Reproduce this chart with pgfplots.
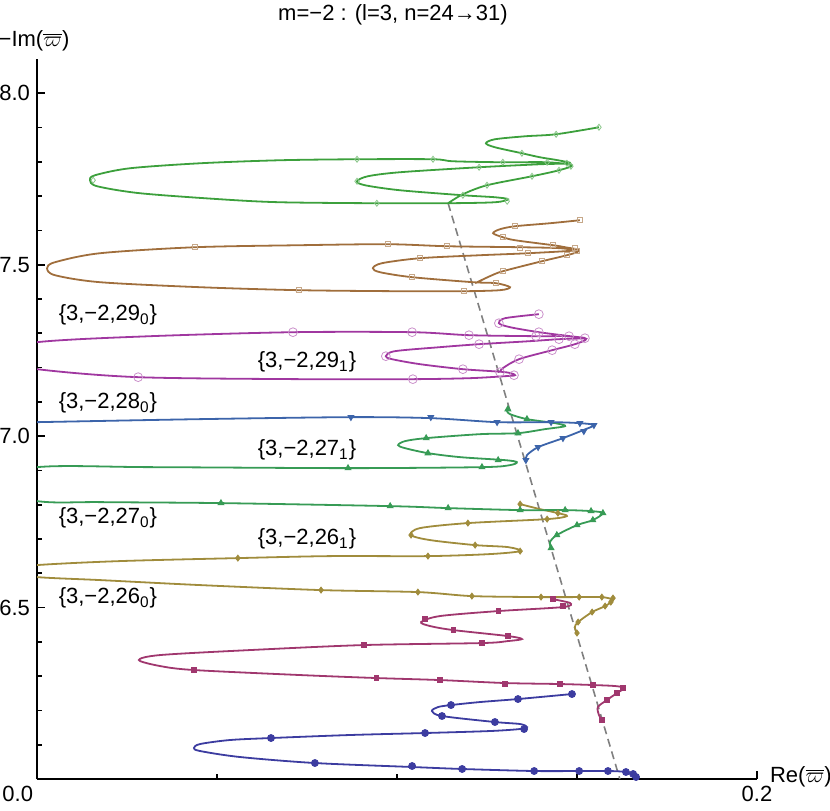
\documentclass[border=0pt]{standalone}
\usepackage{pgfplots}
\pgfplotsset{compat=1.18}
\usepackage{fontspec}
\setmainfont{Liberation Sans}

% Mathematica-like series colours, n = 24 ... 31
\definecolor{c24}{RGB}{60,60,160}
\definecolor{c25}{RGB}{160,55,110}
\definecolor{c26}{RGB}{160,140,60}
\definecolor{c27}{RGB}{55,155,85}
\definecolor{c28}{RGB}{60,100,170}
\definecolor{c29}{RGB}{160,55,160}
\definecolor{c30}{RGB}{160,110,60}
\definecolor{c31}{RGB}{60,160,60}

\pgfplotsset{
  curve/.style={line width=0.9pt, smooth, no marks},
  pts/.style={only marks, mark options={solid, line width=0.4pt}},
}

\begin{document}
\begin{tikzpicture}[font=\fontsize{11}{13}\selectfont]
\useasboundingbox (-18.5pt,-15.5pt) rectangle (396.5pt,389.5pt);
\begin{axis}[
  at={(0,0)}, anchor=south west,
  scale only axis, width=360pt, height=360pt,
  xmin=0, xmax=0.2, ymin=6, ymax=8.1,
  axis lines=left,
  axis line style={line width=1pt, -},
  xtick={0,0.2},
  xticklabels={\makebox[0pt][r]{0.0\hspace{2pt}}, 0.2},
  minor xtick={0.05,0.1,0.15},
  ytick={6,6.5,7,7.5,8},
  yticklabels={,6.5,7.0,7.5,8.0},
  minor ytick={6.1,6.2,6.3,6.4,6.6,6.7,6.8,6.9,7.1,7.2,7.3,7.4,7.6,7.7,7.8,7.9},
  tick align=inside,
  major tick length=4pt, minor tick length=2.5pt,
  tick style={line width=0.8pt, black},
  tick label style={font=\fontsize{11}{13}\selectfont},
  /pgf/number format/assume math mode=true,
  title={m=−2 : (l=3, n=24→31)},
  every axis title/.style={at={(axis description cs:0.5,1)}, anchor=center, yshift=22pt, xshift=-2pt},
  xlabel={Re($\overline{\varpi}$)},
  every axis x label/.style={at={(axis description cs:1,0)}, anchor=west, xshift=3pt, yshift=1pt},
  ylabel={−Im($\overline{\varpi}$)},
  every axis y label/.style={at={(axis description cs:0,1)}, anchor=center, xshift=-1.5pt, yshift=9pt},
]

% guide line through the starting points
\addplot[gray, dashed, line width=0.8pt, dash pattern=on 4pt off 2.5pt] coordinates {(0.1142,7.6793) (0.1619,6.0)};

% n = 24
\addplot[c24, curve] coordinates {
(0.1658,6.0087) (0.1636,6.0204) (0.1586,6.0233) (0.1506,6.0233) (0.1381,6.0233)
(0.1181,6.0292) (0.1042,6.0350) (0.0772,6.0466) (0.0564,6.0641) (0.0453,6.0816)
(0.0436,6.0904) (0.0453,6.1020) (0.0536,6.1137) (0.0650,6.1195) (0.0869,6.1283)
(0.1078,6.1341) (0.1258,6.1399) (0.1342,6.1458) (0.1361,6.1516) (0.1342,6.1603)
(0.1272,6.1662) (0.1125,6.1837) (0.1097,6.1983) (0.1114,6.2099) (0.1150,6.2157)
(0.1231,6.2245) (0.1336,6.2332) (0.1486,6.2478)};
\addplot[c24, pts, mark=*, mark size=1.75pt] coordinates {
(0.1664,6.0058) (0.1656,6.0146) (0.1636,6.0204) (0.1586,6.0233) (0.1506,6.0233)
(0.1381,6.0233) (0.1181,6.0292) (0.1042,6.0379) (0.0772,6.0466) (0.0650,6.1195)
(0.1078,6.1341) (0.1353,6.1458) (0.1272,6.1662) (0.1125,6.1837) (0.1150,6.2157)
(0.1336,6.2332) (0.1486,6.2478)};

% n = 25
\addplot[c25, curve] coordinates {
(0.1431,6.5248) (0.1481,6.5131) (0.1461,6.5015) (0.1281,6.4898) (0.1119,6.4752)
(0.1067,6.4577) (0.1092,6.4461) (0.1156,6.4344) (0.1308,6.4169) (0.1347,6.4082)
(0.1308,6.4023) (0.1236,6.3965) (0.0908,6.3907) (0.0592,6.3761) (0.0342,6.3615)
(0.0283,6.3469) (0.0342,6.3294) (0.0436,6.3178) (0.0731,6.3032) (0.0942,6.2945)
(0.1119,6.2886) (0.1300,6.2799) (0.1453,6.2770) (0.1544,6.2741) (0.1606,6.2711)
(0.1631,6.2653) (0.1611,6.2507) (0.1583,6.2303) (0.1558,6.2099) (0.1561,6.1866)
(0.1569,6.1720)};
\addplot[c25, pts, mark=square*, mark size=1.1pt] coordinates {
(0.1433,6.5248) (0.1461,6.5044) (0.1281,6.4898) (0.1078,6.4665) (0.1156,6.4344)
(0.1308,6.4169) (0.1236,6.3965) (0.0908,6.3907) (0.0436,6.3178) (0.0942,6.2945)
(0.1119,6.2886) (0.1300,6.2770) (0.1453,6.2770) (0.1544,6.2741) (0.1628,6.2653)
(0.1611,6.2507) (0.1583,6.2303) (0.1569,6.1720)};

% n = 26
\addplot[c26, curve] coordinates {
(0.1500,6.4257) (0.1494,6.4431) (0.1503,6.4577) (0.1542,6.4869) (0.1578,6.5044)
(0.1600,6.5219) (0.1569,6.5306) (0.1506,6.5306) (0.1400,6.5306) (0.1208,6.5335)
(0.1058,6.5452) (0.0789,6.5510) (0.0453,6.5656) (0.0175,6.5802) (0,6.5889)
(-0.0144,6.6064) (0,6.6239) (0.0231,6.6356) (0.0558,6.6443) (0.0814,6.6501)
(0.1086,6.6501) (0.1258,6.6560) (0.1342,6.6647) (0.1308,6.6764) (0.1217,6.6822)
(0.1092,6.6968) (0.1039,6.7114) (0.1064,6.7318) (0.1197,6.7464) (0.1417,6.7580)
(0.1472,6.7668) (0.1447,6.7755) (0.1397,6.7872) (0.1342,6.8017)};
\addplot[c26, pts, mark=diamond*, mark size=1.5pt] coordinates {
(0.0558,6.6443) (0.0789,6.5510) (0.1058,6.5452) (0.1208,6.5335) (0.1400,6.5306)
(0.1506,6.5306) (0.1569,6.5306) (0.1600,6.5277) (0.1594,6.5160) (0.1578,6.5044)
(0.1542,6.4869) (0.1503,6.4577) (0.1500,6.4257) (0.1086,6.6501) (0.1342,6.6647)
(0.1217,6.6822) (0.1039,6.7114) (0.1197,6.7464) (0.1417,6.7580) (0.1447,6.7755)
(0.1342,6.8017)};

% n = 27
\addplot[c27, curve] coordinates {
(0.1428,6.6735) (0.1425,6.6910) (0.1444,6.7114) (0.1500,6.7405) (0.1544,6.7551)
(0.1572,6.7755) (0.1539,6.7813) (0.1467,6.7843) (0.1342,6.7843) (0.1142,6.7901)
(0.0981,6.7959) (0.0511,6.8047) (0.0175,6.8076) (0,6.8105) (-0.0214,6.8601)
(0,6.9096) (0.0314,6.9096) (0.0864,6.9067) (0.1236,6.9096) (0.1314,6.9155)
(0.1333,6.9242) (0.1300,6.9300) (0.1175,6.9388) (0.1086,6.9504) (0.1022,6.9650)
(0.1003,6.9738) (0.1022,6.9854) (0.1081,6.9942) (0.1231,7.0058) (0.1336,7.0087)
(0.1411,7.0204) (0.1467,7.0292) (0.1439,7.0379) (0.1361,7.0496) (0.1314,7.0641)
(0.1306,7.0729) (0.1308,7.0787)};
\addplot[c27, pts, mark=triangle*, mark size=1.7pt] coordinates {
(0.0511,6.8047) (0.0981,6.7959) (0.1142,6.7901) (0.1342,6.7843) (0.1467,6.7843)
(0.1539,6.7813) (0.1572,6.7755) (0.1544,6.7551) (0.1500,6.7405) (0.1444,6.7114)
(0.1428,6.6735) (0.0864,6.9067) (0.1236,6.9096) (0.1281,6.9300) (0.1086,6.9504)
(0.1081,6.9942) (0.1336,7.0087) (0.1361,7.0496) (0.1308,7.0787)};

% n = 28
\addplot[c28, curve] coordinates {
(0.1358,6.9300) (0.1361,6.9446) (0.1392,6.9679) (0.1461,6.9942) (0.1517,7.0175)
(0.1547,7.0321) (0.1508,7.0379) (0.1428,7.0408) (0.1278,7.0408) (0.1094,7.0525)
(0.0872,7.0554) (0.0453,7.0496) (0,7.0408) (-0.0158,7.0379)};
\addplot[c28, pts, mark=triangle*, mark size=1.7pt, mark options={rotate=180}] coordinates {
(0.0872,7.0554) (0.1094,7.0554) (0.1278,7.0408) (0.1428,7.0408) (0.1508,7.0379)
(0.1547,7.0321) (0.1519,7.0146) (0.1461,6.9942) (0.1392,6.9679) (0.1358,6.9300)};

% n = 29
\addplot[c29, curve] coordinates {
(0.1286,7.1866) (0.1294,7.1983) (0.1339,7.2245) (0.1431,7.2507) (0.1494,7.2682)
(0.1525,7.2828) (0.1478,7.2915) (0.1389,7.2915) (0.1200,7.2945) (0.1042,7.3032)
(0.0711,7.3032) (0.0314,7.2915) (0,7.2741) (-0.0214,7.2332) (0,7.1953)
(0.0281,7.1720) (0.0731,7.1662) (0.1044,7.1662) (0.1203,7.1691) (0.1300,7.1749)
(0.1328,7.1778) (0.1300,7.1866) (0.1183,7.1953) (0.1064,7.2099) (0.0986,7.2245)
(0.0969,7.2332) (0.0994,7.2478) (0.1119,7.2595) (0.1228,7.2682) (0.1369,7.2770)
(0.1450,7.2828) (0.1522,7.2857) (0.1481,7.2915) (0.1394,7.3032) (0.1314,7.3178)
(0.1283,7.3294) (0.1300,7.3440) (0.1394,7.3557)};
\addplot[c29!55, pts, mark=o, mark size=2.2pt] coordinates {
(0.0711,7.3032) (0.1042,7.3032) (0.1200,7.2945) (0.1386,7.2915) (0.1478,7.2915)
(0.1522,7.2857) (0.1494,7.2682) (0.1431,7.2507) (0.1339,7.2245) (0.1286,7.1866)
(0.0281,7.1720) (0.1044,7.1662) (0.1325,7.1778) (0.1183,7.1953) (0.0969,7.2332)
(0.1228,7.2682) (0.1450,7.2828) (0.1394,7.3032) (0.1283,7.3294) (0.1394,7.3557)};

% n = 30
\addplot[c30, curve] coordinates {
(0.1217,7.4461) (0.1258,7.4665) (0.1294,7.4810) (0.1403,7.5102) (0.1472,7.5277)
(0.1503,7.5394) (0.1453,7.5481) (0.1342,7.5510) (0.1139,7.5539) (0.0975,7.5598)
(0.0731,7.5569) (0.0439,7.5510) (0.0175,7.5335) (0.0050,7.5073) (0.0028,7.4898)
(0.0050,7.4694) (0.0175,7.4490) (0.0453,7.4344) (0.0728,7.4257) (0.1008,7.4227)
(0.1186,7.4227) (0.1286,7.4257) (0.1314,7.4344) (0.1275,7.4461) (0.1211,7.4490)
(0.1042,7.4636) (0.0953,7.4781) (0.0933,7.4898) (0.0958,7.5044) (0.1064,7.5190)
(0.1231,7.5277) (0.1364,7.5335) (0.1500,7.5423) (0.1467,7.5510) (0.1433,7.5569)
(0.1328,7.5714) (0.1294,7.5802) (0.1267,7.5918) (0.1286,7.6035) (0.1328,7.6122)
(0.1425,7.6210) (0.1508,7.6297)};
\addplot[c30!60, pts, mark=square, mark size=1.3pt] coordinates {
(0.0439,7.5510) (0.0728,7.4257) (0.0975,7.5598) (0.1139,7.5539) (0.1342,7.5481)
(0.1433,7.5569) (0.1494,7.5481) (0.1500,7.5394) (0.1472,7.5277) (0.1403,7.5102)
(0.1294,7.4810) (0.1275,7.4461) (0.1186,7.4227) (0.1042,7.4636) (0.1064,7.5190)
(0.1364,7.5335) (0.1328,7.6122) (0.1294,7.5802) (0.1508,7.6297)};

% n = 31
\addplot[c31, curve] coordinates {
(0.1142,7.6793) (0.1183,7.7055) (0.1250,7.7318) (0.1375,7.7580) (0.1450,7.7755)
(0.1486,7.7901) (0.1417,7.7988) (0.1294,7.7988) (0.1156,7.8017) (0.1100,7.8076)
(0.0889,7.8076) (0.0675,7.8047) (0.0453,7.7959) (0.0258,7.7813) (0.0161,7.7609)
(0.0147,7.7464) (0.0167,7.7289) (0.0286,7.7085) (0.0508,7.6910) (0.0675,7.6822)
(0.0944,7.6793) (0.1139,7.6793) (0.1272,7.6822) (0.1308,7.6910) (0.1272,7.6968)
(0.1183,7.7026) (0.1008,7.7172) (0.0911,7.7318) (0.0889,7.7434) (0.0919,7.7580)
(0.1008,7.7697) (0.1228,7.7843) (0.1397,7.7930) (0.1481,7.7959) (0.1447,7.8047)
(0.1397,7.8134) (0.1347,7.8251) (0.1272,7.8426) (0.1247,7.8542) (0.1272,7.8659)
(0.1356,7.8746) (0.1442,7.8805) (0.1561,7.9009)};
\addplot[c31!60, pts, mark=diamond, mark size=1.5pt] coordinates {
(0.0156,7.7464) (0.0889,7.8076) (0.1100,7.8076) (0.1294,7.7988) (0.1417,7.7988)
(0.1472,7.7959) (0.1483,7.7872) (0.1450,7.7755) (0.1375,7.7580) (0.1250,7.7318)
(0.1183,7.7026) (0.0944,7.6793) (0.1306,7.6851) (0.0889,7.7434) (0.1228,7.7843)
(0.1347,7.8251) (0.1442,7.8805) (0.1561,7.9009)};

% series labels
\node at (axis cs:0.0197,7.3528) {\{3,−2,29\textsubscript{0}\}};
\node at (axis cs:0.0750,7.2157) {\{3,−2,29\textsubscript{1}\}};
\node at (axis cs:0.0197,7.0962) {\{3,−2,28\textsubscript{0}\}};
\node at (axis cs:0.0750,6.9592) {\{3,−2,27\textsubscript{1}\}};
\node at (axis cs:0.0197,6.7609) {\{3,−2,27\textsubscript{0}\}};
\node at (axis cs:0.0750,6.6997) {\{3,−2,26\textsubscript{1}\}};
\node at (axis cs:0.0197,6.5277) {\{3,−2,26\textsubscript{0}\}};
\end{axis}
\end{tikzpicture}
\end{document}
